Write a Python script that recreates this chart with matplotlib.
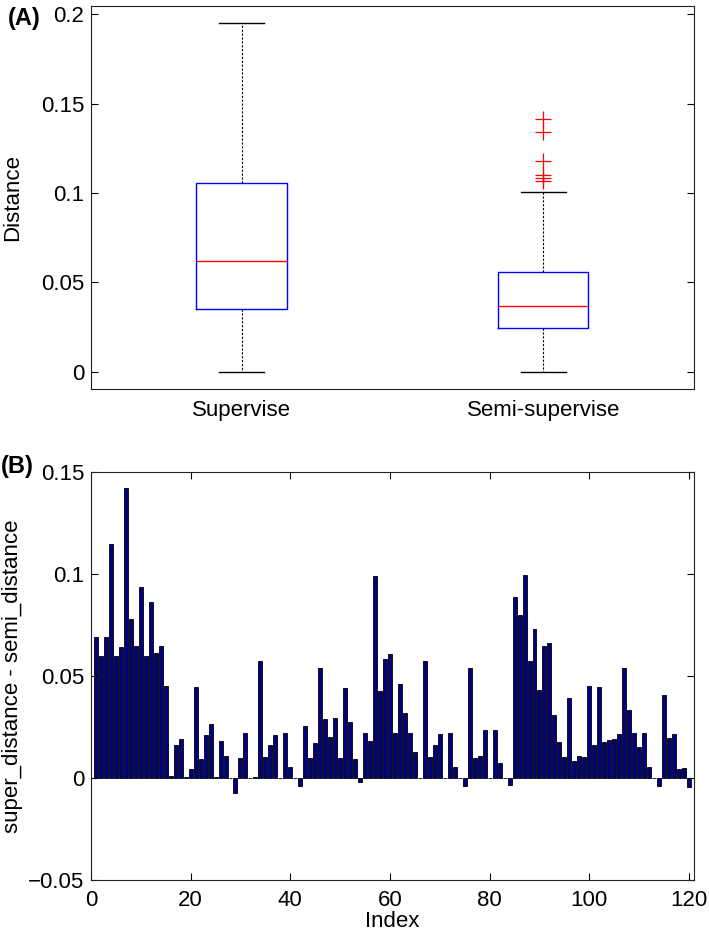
import matplotlib
matplotlib.use("Agg")
import matplotlib.pyplot as plt

plt.rcParams["font.family"] = ["Liberation Sans", "DejaVu Sans"]

# Panel A: box plot summary
groups = ["Supervise", "Semi-supervise"]
whisker_low = [0.0, 0.0]
q1 = [0.0348, 0.0245]
median = [0.0621, 0.0365]
q3 = [0.1054, 0.0558]
whisker_high = [0.1953, 0.1007]
outliers = [[], [0.1416, 0.1339, 0.1178, 0.1103, 0.1086, 0.1067]]

# Panel B: per-index differences
index = list(range(1, 121))
diff = [
    0.069, 0.0598, 0.069, 0.1147, 0.0598, 0.0645, 0.142, 0.078, 0.065, 0.0938,
    0.0598, 0.0864, 0.0615, 0.065, 0.0453, 0.001, 0.0162, 0.0194, 0.0005, 0.0044,
    0.0446, 0.0095, 0.021, 0.0265, 0.0005, 0.0185, 0.011, 0.0003, -0.007, 0.010,
    0.0224, 0.0, 0.0007, 0.0575, 0.0106, 0.0163, 0.0214, 0.0, 0.0224, 0.0057,
    0.0, -0.0038, 0.0257, 0.0101, 0.0172, 0.0538, 0.0289, 0.0201, 0.0294, 0.0101,
    0.0444, 0.0278, 0.0092, -0.0018, 0.0224, 0.0185, 0.0989, 0.0425, 0.0583, 0.0608,
    0.0224, 0.0462, 0.0322, 0.0224, 0.0131, 0.0003, 0.0575, 0.0106, 0.0163, 0.0216,
    0.0, 0.0224, 0.0057, 0.0, -0.0038, 0.0539, 0.0098, 0.011, 0.0237, 0.0003,
    0.0237, 0.0077, 0.0003, -0.0034, 0.0886, 0.080, 0.0993, 0.0575, 0.073, 0.043,
    0.0649, 0.066, 0.031, 0.018, 0.0106, 0.0392, 0.0085, 0.011, 0.0106, 0.0451,
    0.0163, 0.0446, 0.0176, 0.0188, 0.0191, 0.0216, 0.0539, 0.0335, 0.0224, 0.0152,
    0.0224, 0.0057, 0.0, -0.0038, 0.0408, 0.0199, 0.0216, 0.0044, 0.0052, -0.0044,
]

fig = plt.figure(figsize=(7.09, 9.36), dpi=100)
ax1 = fig.add_axes([0.1283, 0.5843, 0.8505, 0.4096])
ax2 = fig.add_axes([0.1283, 0.0594, 0.8505, 0.4364])

fs = 16

# ---- (A) boxplot
stats = []
for i, g in enumerate(groups):
    stats.append({
        "label": g, "whislo": whisker_low[i], "q1": q1[i], "med": median[i],
        "q3": q3[i], "whishi": whisker_high[i], "fliers": outliers[i],
    })
ax1.bxp(stats, positions=[1, 2], widths=0.3, capwidths=0.15,
        boxprops=dict(color="#0000ff", linewidth=1.0),
        medianprops=dict(color="#ff0000", linewidth=1.0),
        whiskerprops=dict(color="black", linewidth=0.8, linestyle=(0, (2, 1.5))),
        capprops=dict(color="black", linewidth=1.0),
        flierprops=dict(marker="+", markeredgecolor="#ff0000", markersize=11,
                        markeredgewidth=0.9, linestyle="none"))
ax1.set_xlim(0.5, 2.5)
ax1.set_ylim(-0.00975, 0.20475)
ax1.set_yticks([0, 0.05, 0.1, 0.15, 0.2])
ax1.set_yticklabels(["0", "0.05", "0.1", "0.15", "0.2"])
ax1.set_ylabel("Distance", fontsize=fs)
ax1.yaxis.set_label_coords(-0.112, 0.5)
ax1.tick_params(axis="y", direction="in", right=True, length=5, width=0.8,
                labelsize=fs, pad=5)
ax1.tick_params(axis="x", length=0, labelsize=fs, pad=8)

# ---- (B) bar chart
ax2.bar(index, diff, width=0.8, color="#000080", edgecolor="black", linewidth=0.6)
ax2.set_xlim(0, 121)
ax2.set_ylim(-0.05, 0.15)
ax2.set_xticks([0, 20, 40, 60, 80, 100, 120])
ax2.set_yticks([-0.05, 0, 0.05, 0.1, 0.15])
ax2.set_yticklabels(["\u22120.05", "0", "0.05", "0.1", "0.15"])
ax2.set_xlabel("Index", fontsize=fs, labelpad=0)
ax2.set_ylabel("super_distance - semi_distance", fontsize=fs)
ax2.yaxis.set_label_coords(-0.112, 0.5)
ax2.tick_params(direction="in", top=True, right=True, length=5, width=0.8,
                labelsize=fs)
ax2.tick_params(axis="x", pad=7)
ax2.tick_params(axis="y", pad=5)

for ax in (ax1, ax2):
    for s in ax.spines.values():
        s.set_linewidth(0.8)
        s.set_color("#222222")

fig.text(8 / 709, 1 - 18 / 936, "(A)", fontsize=17, fontweight="bold", va="center")
fig.text(1 / 709, 1 - 467 / 936, "(B)", fontsize=17, fontweight="bold", va="center")

fig.savefig("out.png", dpi=100)
